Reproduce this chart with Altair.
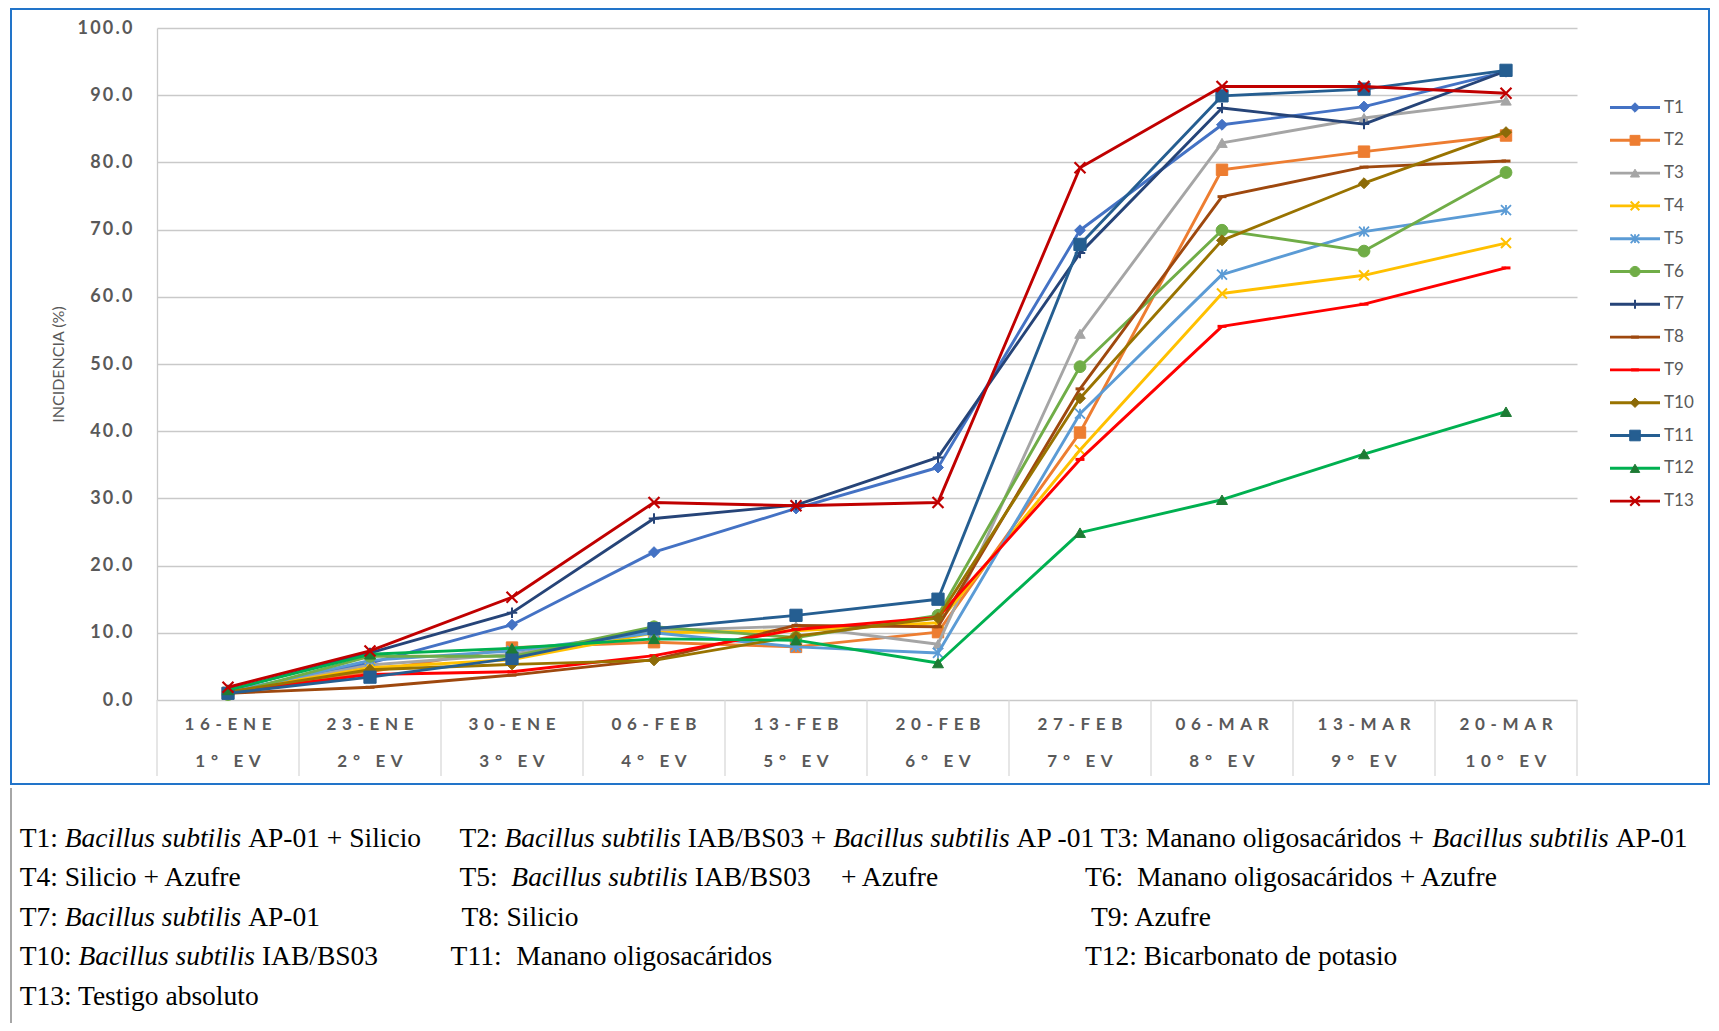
import altair as alt
import pandas as pd

# ---------------- data ----------------
dates = ["16-ENE", "23-ENE", "30-ENE", "06-FEB", "13-FEB", "20-FEB",
         "27-FEB", "06-MAR", "13-MAR", "20-MAR"]
evals = ["1° EV", "2° EV", "3° EV", "4° EV", "5° EV", "6° EV",
         "7° EV", "8° EV", "9° EV", "10° EV"]
series = ["T1", "T2", "T3", "T4", "T5", "T6", "T7", "T8", "T9", "T10", "T11", "T12", "T13"]

T1 = [1.2, 5.5, 11.2, 22.0, 28.5, 34.6, 69.9, 85.6, 88.3, 93.5]
T2 = [1.0, 4.2, 7.8, 8.6, 7.9, 10.1, 39.8, 78.9, 81.6, 84.0]
T3 = [1.3, 5.2, 6.8, 10.3, 11.0, 8.3, 54.5, 82.9, 86.6, 89.2]
T4 = [1.2, 4.8, 6.0, 10.0, 10.3, 11.5, 37.2, 60.5, 63.2, 68.0]
T5 = [1.1, 5.9, 7.3, 10.0, 7.9, 7.0, 42.6, 63.3, 69.7, 72.9]
T6 = [0.8, 6.5, 6.5, 10.9, 9.3, 12.6, 49.6, 69.9, 66.8, 78.5]
T7 = [1.5, 7.0, 13.0, 27.0, 29.0, 36.1, 66.5, 88.1, 85.7, 93.6]
T8 = [1.0, 1.9, 3.7, 6.0, 11.1, 10.9, 46.3, 74.9, 79.3, 80.2]
T9 = [1.2, 3.8, 4.2, 6.6, 10.5, 12.3, 35.8, 55.6, 58.9, 64.3]
T10 = [1.2, 4.5, 5.3, 5.9, 9.5, 12.2, 44.9, 68.4, 76.9, 84.5]
T11 = [1.0, 3.4, 6.2, 10.6, 12.6, 15.0, 67.8, 89.9, 90.9, 93.7]
T12 = [1.5, 6.8, 7.7, 9.1, 8.9, 5.5, 24.9, 29.8, 36.6, 42.9]
T13 = [1.9, 7.3, 15.3, 29.4, 28.9, 29.4, 79.2, 91.3, 91.3, 90.3]
values = [T1, T2, T3, T4, T5, T6, T7, T8, T9, T10, T11, T12, T13]

line_colors = ["#4472C4", "#ED7D31", "#A5A5A5", "#FFC000", "#5B9BD5", "#70AD47",
               "#264478", "#9E480E", "#FF0000", "#997300", "#255E91", "#00B050", "#C00000"]
marker_colors = ["#4472C4", "#ED7D31", "#A5A5A5", "#FFC000", "#5B9BD5", "#70AD47",
                 "#264478", "#9E480E", "#FF0000", "#8C6A08", "#255E91", "#1E7B34", "#C00000"]

XPATH = "M-1,-1L1,1M1,-1L-1,1"
ASTER = "M-1,-1L1,1M1,-1L-1,1M0,-1L0,1"
PLUS = "M-1,0L1,0M0,-1L0,1"
DASH = "M-1,0L1,0"
# (shape, size, filled, strokeWidth)
markers = [
    ("diamond", 120, True, 1),
    ("square", 130, True, 1),
    ("triangle-up", 110, True, 1),
    (XPATH, 100, False, 2),
    (ASTER, 100, False, 1.8),
    ("circle", 140, True, 1),
    (PLUS, 110, False, 2),
    (DASH, 80, False, 3),
    (DASH, 80, False, 3),
    ("diamond", 120, True, 1),
    ("square", 150, True, 1),
    ("triangle-up", 120, True, 1),
    (XPATH, 120, False, 2.2),
]

rows = []
for s, vals in zip(series, values):
    for d, v in zip(dates, vals):
        rows.append({"series": s, "cat": d, "value": v})
df = pd.DataFrame(rows)

SP3 = "\u2004"
SPT = "\u2009"
cat_df = pd.DataFrame({
    "cat": dates,
    "dlab": [SP3.join(list(d)) for d in dates],
    "elab": [SP3.join(list(e)) for e in evals],
})

# ---------------- layout ----------------
W, H = 1420, 672
GRAY = "#595959"
GRID = "#C9C9C9"

xscale = alt.Scale(type="band", paddingInner=0, paddingOuter=0)
X = alt.X("cat:N", sort=dates, scale=xscale, axis=None)
Y = alt.Y(
    "value:Q",
    scale=alt.Scale(domain=[0, 100], nice=False, zero=True),
    axis=alt.Axis(
        values=list(range(0, 101, 10)), format=".1f",
        labelExpr="join(split(datum.label, ''), '" + SPT + "')",
        grid=True, gridColor=GRID, gridWidth=1.3,
        domain=True, domainColor=GRID, domainWidth=1.3,
        ticks=False, labelPadding=25,
        labelFont="Lato", labelFontWeight="bold", labelFontSize=18, labelColor=GRAY,
        title="INCIDENCIA (%)", titleFont="Lato", titleFontSize=16,
        titleFontWeight="normal", titleColor=GRAY,
        titleX=-99, titleY=336, titleAngle=270, titleAlign="center", titleBaseline="middle",
    ),
)

one = alt.Data(values=[{"a": 1}])
layers = []

# frame
layers.append(alt.Chart(one).mark_rect(fillOpacity=0, stroke="#2274C9", strokeWidth=2).encode(
    x=alt.value(-146), x2=alt.value(1552), y=alt.value(-19), y2=alt.value(756)))
layers.append(alt.Chart(one).mark_rule(color="#A6A6A6", strokeWidth=2).encode(
    x=alt.value(-146), y=alt.value(760), y2=alt.value(995)))

# category dividers
layers.append(alt.Chart(cat_df).mark_rule(color="#D9D9D9", strokeWidth=1.3).encode(
    x=alt.X("cat:N", sort=dates, scale=xscale, axis=None, bandPosition=0),
    y=alt.value(H), y2=alt.value(748)))
layers.append(alt.Chart(cat_df.tail(1)).mark_rule(color="#D9D9D9", strokeWidth=1.3).encode(
    x=alt.X("cat:N", sort=dates, scale=xscale, axis=None, bandPosition=1),
    y=alt.value(H), y2=alt.value(748)))

# x labels
layers.append(alt.Chart(cat_df).mark_text(font="Lato", fontWeight="bold", fontSize=17, color=GRAY,
                                           baseline="middle", align="center").encode(
    x=X, y=alt.value(696.7), text="dlab:N"))
layers.append(alt.Chart(cat_df).mark_text(font="Lato", fontWeight="bold", fontSize=17, color=GRAY,
                                           baseline="middle", align="center").encode(
    x=X, y=alt.value(734), text="elab:N"))

# series
for s, lc, mc, (shape, size, filled, sw) in zip(series, line_colors, marker_colors, markers):
    base = alt.Chart(df).transform_filter(alt.datum.series == s)
    layers.append(base.mark_line(color=lc, strokeWidth=2.9, strokeJoin="round").encode(x=X, y=Y))
    layers.append(base.mark_point(shape=shape, size=size, opacity=1, strokeWidth=sw).encode(
        x=X, y=Y,
        fill=alt.value(mc if filled else "transparent"),
        stroke=alt.value(mc)))

# legend
for i, (s, lc, mc, (shape, size, filled, sw)) in enumerate(zip(series, line_colors, marker_colors, markers)):
    ly = 79.5 + 32.8 * i
    layers.append(alt.Chart(one).mark_rule(color=lc, strokeWidth=2.9).encode(
        x=alt.value(1453), x2=alt.value(1503), y=alt.value(ly)))
    layers.append(alt.Chart(one).mark_point(shape=shape, size=size * 0.75, opacity=1, strokeWidth=sw).encode(
        x=alt.value(1478), y=alt.value(ly),
        fill=alt.value(mc if filled else "transparent"), stroke=alt.value(mc)))
    layers.append(alt.Chart(one).mark_text(font="Lato", fontSize=17, color=GRAY, align="left",
                                           baseline="middle").encode(
        x=alt.value(1507), y=alt.value(ly), text=alt.value(s)))

# treatment descriptions (Times metrics for positioning)
FS = 27.5
REG = {" ": 250, "+": 564, "-": 333, ".": 250, "/": 278, ":": 278,
       "A": 722, "B": 667, "I": 333, "M": 889, "P": 556, "S": 556, "T": 611,
       "a": 444, "b": 500, "c": 444, "d": 500, "e": 444, "f": 333, "g": 500, "i": 278,
       "l": 278, "m": 778, "n": 500, "o": 500, "p": 500, "r": 333, "s": 389, "t": 278,
       "u": 500, "v": 500, "z": 444, "á": 444}
ITA = {" ": 250, "B": 611, "a": 500, "b": 500, "c": 444, "i": 278, "l": 278, "s": 389,
       "t": 278, "u": 500}


def tw(s, it):
    tab = ITA if it else REG
    return sum(tab.get(c, 500) for c in s) * FS / 1000.0


BS = "Bacillus subtilis"
desc_lines = [
    (838.7, [(19.7, [("T1: ", 0), (BS, 1), (" AP-01 + Silicio", 0)]),
             (459.4, [("T2: ", 0), (BS, 1), (" IAB/BS03 + ", 0), (BS, 1),
                      (" AP -01 T3: Manano oligosacáridos + ", 0), (BS, 1), (" AP-01", 0)])]),
    (878.0, [(19.7, [("T4: Silicio + Azufre", 0)]),
             (459.4, [("T5:  ", 0), (BS, 1), (" IAB/BS03", 0)]),
             (841.0, [("+ Azufre", 0)]),
             (1085.0, [("T6:  ", 0), ("Manano oligosacáridos + Azufre", 0)])]),
    (917.6, [(19.7, [("T7: ", 0), (BS, 1), (" AP-01", 0)]),
             (461.5, [("T8: Silicio", 0)]),
             (1091.0, [("T9: Azufre", 0)])]),
    (957.0, [(19.7, [("T10: ", 0), (BS, 1), (" IAB/BS03", 0)]),
             (450.6, [("T11:  ", 0), ("Manano oligosacáridos", 0)]),
             (1085.0, [("T12: Bicarbonato de potasio", 0)])]),
    (996.6, [(19.7, [("T13: Testigo absoluto", 0)])]),
]

for yfull, cols in desc_lines:
    for xstart, segs in cols:
        x = xstart
        for text, it in segs:
            lead = len(text) - len(text.lstrip(" "))
            xs = x + tw(" " * lead, it)
            shown = text.strip(" ")
            layers.append(alt.Chart(one).mark_text(
                font="Liberation Serif", fontSize=FS, color="#000000", align="left",
                baseline="middle", fontStyle="italic" if it else "normal").encode(
                x=alt.value(xs - 157), y=alt.value(yfull - 28), text=alt.value(shown)))
            x += tw(text, it)

chart = alt.layer(*layers).properties(
    width=W, height=H,
    autosize=alt.AutoSizeParams(type="none"),
    padding={"left": 149, "top": 20, "right": 134, "bottom": 323},
    background="white",
).configure_view(stroke=None)

chart.save("out.html", embed_options={"renderer": "svg", "actions": False})
